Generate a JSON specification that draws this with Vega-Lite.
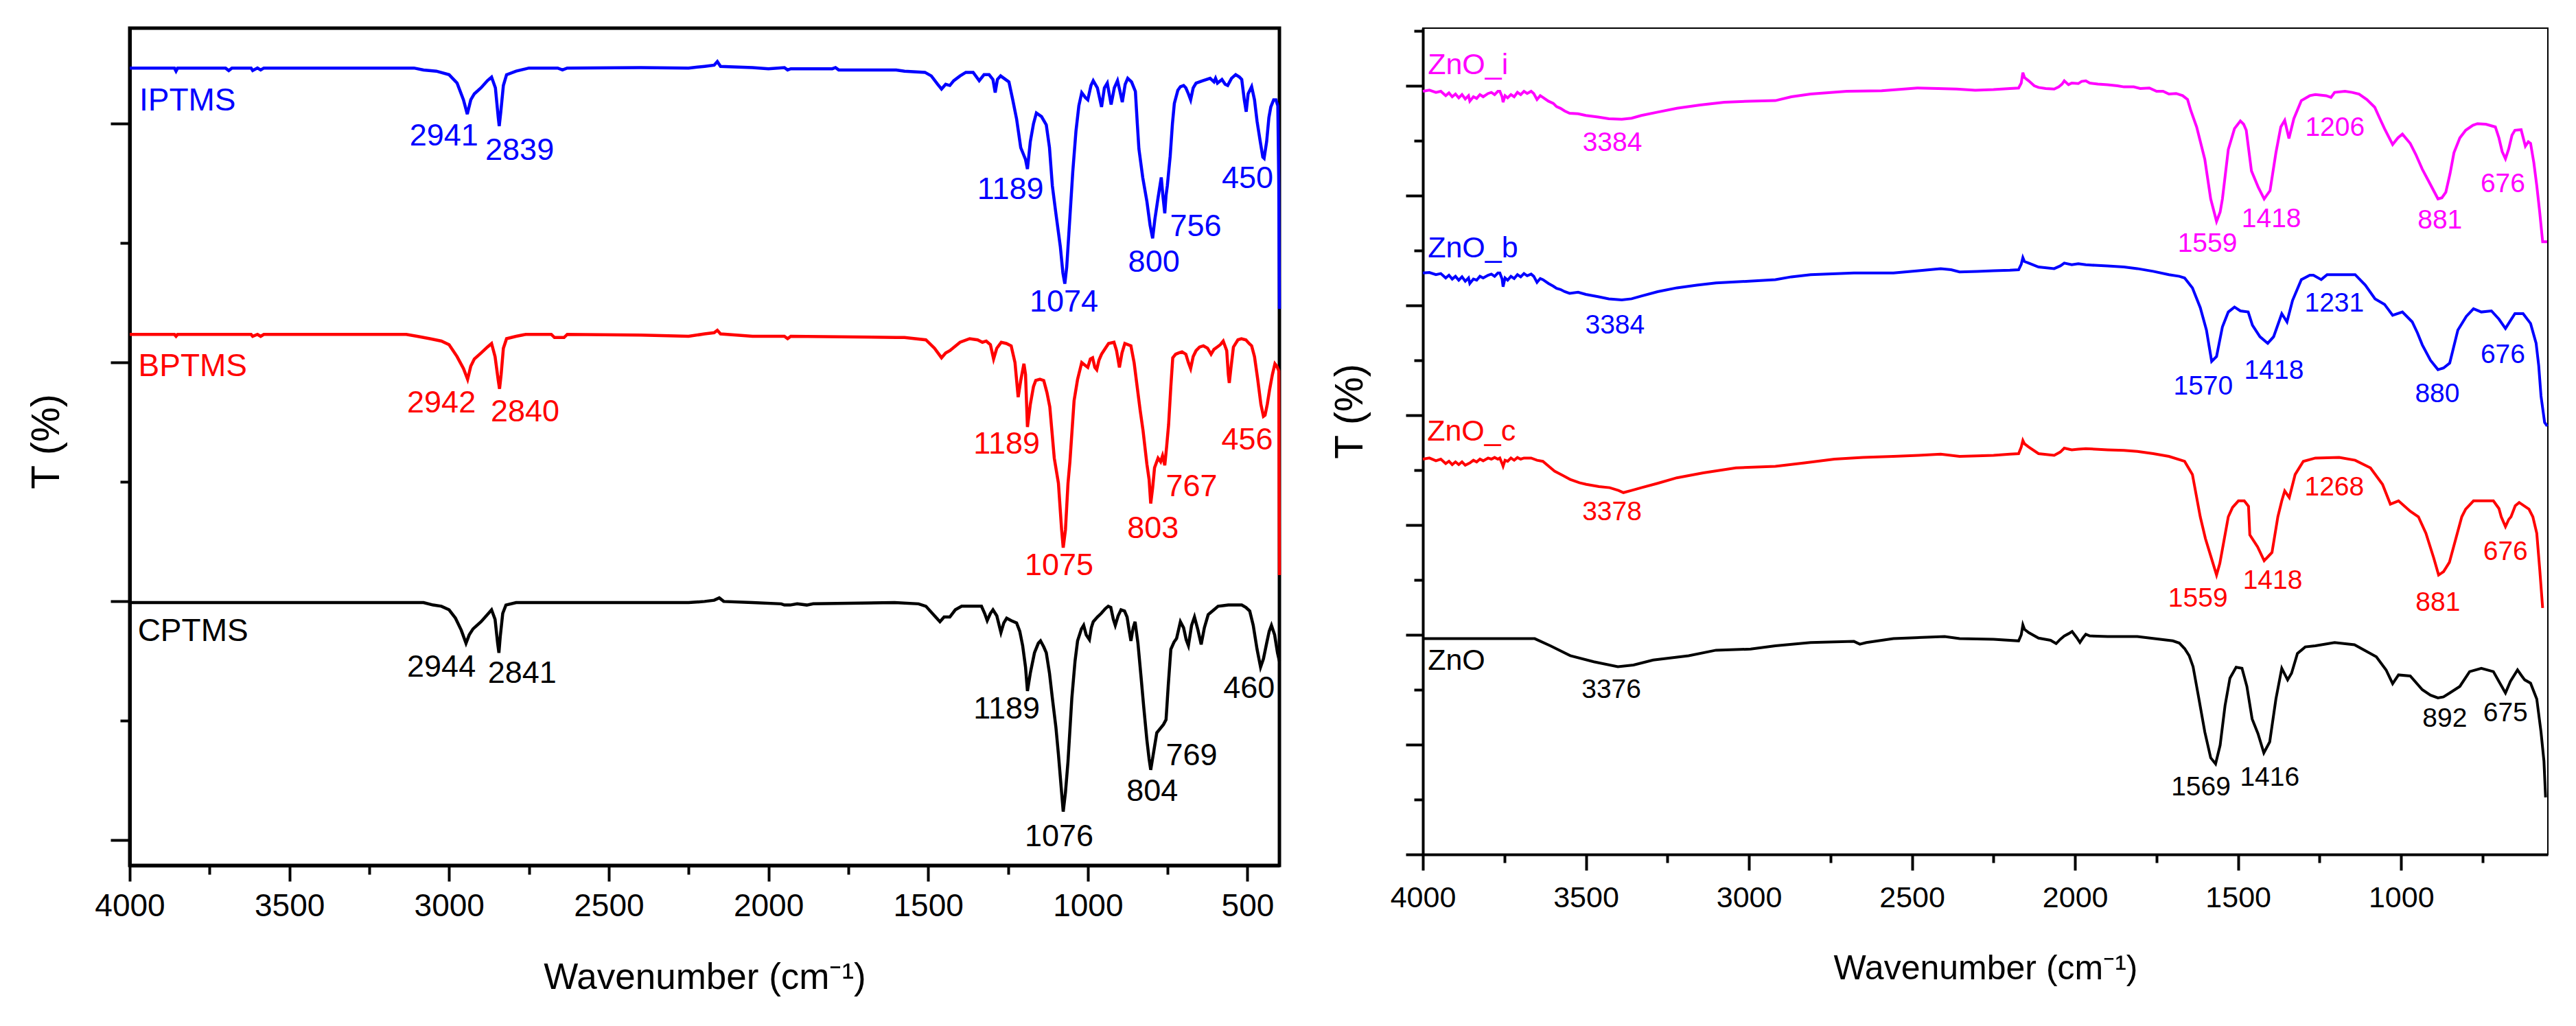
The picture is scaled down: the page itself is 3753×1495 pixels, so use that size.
{
"$schema":"https://vega.github.io/schema/vega-lite/v6.json",
"background":"white",
"padding":{"left":36,"top":38,"right":40,"bottom":10},
"spacing":61,
"resolve":{"scale":{"color":"independent","x":"independent","y":"independent"}},
"config":{"font":"Liberation Sans","view":{"stroke":null},"axis":{"grid":false,"labelColor":"black","titleColor":"black","tickColor":"black","domainColor":"black","titleFontWeight":"normal","labelFlush":false,"labelOverlap":false}},
"datasets":{
"L":[
{"s":"IPTMS","w":4000,"t":6.466},{"s":"IPTMS","w":3860,"t":6.466},{"s":"IPTMS","w":3855,"t":6.44},{"s":"IPTMS","w":3850,"t":6.466},{"s":"IPTMS","w":3700,"t":6.466},{"s":"IPTMS","w":3690,"t":6.445},{"s":"IPTMS","w":3680,"t":6.466},{"s":"IPTMS","w":3620,"t":6.466},{"s":"IPTMS","w":3615,"t":6.445},{"s":"IPTMS","w":3600,"t":6.466},{"s":"IPTMS","w":3590,"t":6.45},{"s":"IPTMS","w":3580,"t":6.466},{"s":"IPTMS","w":3110,"t":6.466},{"s":"IPTMS","w":3080,"t":6.45},{"s":"IPTMS","w":3040,"t":6.44},{"s":"IPTMS","w":3000,"t":6.41},{"s":"IPTMS","w":2975,"t":6.34},{"s":"IPTMS","w":2955,"t":6.2},{"s":"IPTMS","w":2943,"t":6.08},{"s":"IPTMS","w":2932,"t":6.2},{"s":"IPTMS","w":2921,"t":6.25},{"s":"IPTMS","w":2900,"t":6.3},{"s":"IPTMS","w":2880,"t":6.36},{"s":"IPTMS","w":2867,"t":6.39},{"s":"IPTMS","w":2855,"t":6.3},{"s":"IPTMS","w":2846,"t":6.05},{"s":"IPTMS","w":2843,"t":5.98},{"s":"IPTMS","w":2838,"t":6.1},{"s":"IPTMS","w":2830,"t":6.32},{"s":"IPTMS","w":2820,"t":6.41},{"s":"IPTMS","w":2790,"t":6.44},{"s":"IPTMS","w":2750,"t":6.466},{"s":"IPTMS","w":2660,"t":6.466},{"s":"IPTMS","w":2645,"t":6.45},{"s":"IPTMS","w":2630,"t":6.466},{"s":"IPTMS","w":2400,"t":6.47},{"s":"IPTMS","w":2250,"t":6.466},{"s":"IPTMS","w":2200,"t":6.48},{"s":"IPTMS","w":2170,"t":6.49},{"s":"IPTMS","w":2160,"t":6.52},{"s":"IPTMS","w":2150,"t":6.48},{"s":"IPTMS","w":2050,"t":6.47},{"s":"IPTMS","w":2000,"t":6.46},{"s":"IPTMS","w":1950,"t":6.47},{"s":"IPTMS","w":1940,"t":6.45},{"s":"IPTMS","w":1930,"t":6.46},{"s":"IPTMS","w":1800,"t":6.46},{"s":"IPTMS","w":1790,"t":6.47},{"s":"IPTMS","w":1780,"t":6.45},{"s":"IPTMS","w":1600,"t":6.45},{"s":"IPTMS","w":1574,"t":6.44},{"s":"IPTMS","w":1510,"t":6.43},{"s":"IPTMS","w":1490,"t":6.4},{"s":"IPTMS","w":1470,"t":6.33},{"s":"IPTMS","w":1458,"t":6.29},{"s":"IPTMS","w":1445,"t":6.33},{"s":"IPTMS","w":1432,"t":6.32},{"s":"IPTMS","w":1420,"t":6.36},{"s":"IPTMS","w":1400,"t":6.4},{"s":"IPTMS","w":1382,"t":6.43},{"s":"IPTMS","w":1359,"t":6.43},{"s":"IPTMS","w":1340,"t":6.36},{"s":"IPTMS","w":1325,"t":6.41},{"s":"IPTMS","w":1309,"t":6.41},{"s":"IPTMS","w":1297,"t":6.37},{"s":"IPTMS","w":1290,"t":6.26},{"s":"IPTMS","w":1283,"t":6.37},{"s":"IPTMS","w":1273,"t":6.4},{"s":"IPTMS","w":1247,"t":6.35},{"s":"IPTMS","w":1235,"t":6.2},{"s":"IPTMS","w":1223,"t":6.04},{"s":"IPTMS","w":1210,"t":5.8},{"s":"IPTMS","w":1204,"t":5.76},{"s":"IPTMS","w":1195,"t":5.7},{"s":"IPTMS","w":1189,"t":5.62},{"s":"IPTMS","w":1180,"t":5.85},{"s":"IPTMS","w":1170,"t":6.0},{"s":"IPTMS","w":1161,"t":6.09},{"s":"IPTMS","w":1145,"t":6.06},{"s":"IPTMS","w":1130,"t":5.99},{"s":"IPTMS","w":1120,"t":5.8},{"s":"IPTMS","w":1111,"t":5.48},{"s":"IPTMS","w":1100,"t":5.25},{"s":"IPTMS","w":1086,"t":4.97},{"s":"IPTMS","w":1078,"t":4.75},{"s":"IPTMS","w":1072,"t":4.66},{"s":"IPTMS","w":1066,"t":4.8},{"s":"IPTMS","w":1056,"t":5.22},{"s":"IPTMS","w":1047,"t":5.6},{"s":"IPTMS","w":1037,"t":5.94},{"s":"IPTMS","w":1028,"t":6.15},{"s":"IPTMS","w":1019,"t":6.26},{"s":"IPTMS","w":1008,"t":6.22},{"s":"IPTMS","w":1000,"t":6.2},{"s":"IPTMS","w":990,"t":6.32},{"s":"IPTMS","w":983,"t":6.36},{"s":"IPTMS","w":970,"t":6.3},{"s":"IPTMS","w":957,"t":6.14},{"s":"IPTMS","w":948,"t":6.3},{"s":"IPTMS","w":939,"t":6.34},{"s":"IPTMS","w":933,"t":6.25},{"s":"IPTMS","w":927,"t":6.16},{"s":"IPTMS","w":917,"t":6.3},{"s":"IPTMS","w":907,"t":6.36},{"s":"IPTMS","w":900,"t":6.28},{"s":"IPTMS","w":892,"t":6.18},{"s":"IPTMS","w":883,"t":6.33},{"s":"IPTMS","w":875,"t":6.38},{"s":"IPTMS","w":863,"t":6.35},{"s":"IPTMS","w":851,"t":6.27},{"s":"IPTMS","w":845,"t":6.0},{"s":"IPTMS","w":840,"t":5.79},{"s":"IPTMS","w":828,"t":5.55},{"s":"IPTMS","w":815,"t":5.35},{"s":"IPTMS","w":805,"t":5.15},{"s":"IPTMS","w":797,"t":5.04},{"s":"IPTMS","w":790,"t":5.2},{"s":"IPTMS","w":780,"t":5.38},{"s":"IPTMS","w":770,"t":5.55},{"s":"IPTMS","w":765,"t":5.4},{"s":"IPTMS","w":759,"t":5.25},{"s":"IPTMS","w":755,"t":5.4},{"s":"IPTMS","w":751,"t":5.48},{"s":"IPTMS","w":742,"t":5.73},{"s":"IPTMS","w":735,"t":6.0},{"s":"IPTMS","w":729,"t":6.17},{"s":"IPTMS","w":718,"t":6.28},{"s":"IPTMS","w":710,"t":6.31},{"s":"IPTMS","w":700,"t":6.32},{"s":"IPTMS","w":693,"t":6.3},{"s":"IPTMS","w":685,"t":6.25},{"s":"IPTMS","w":678,"t":6.2},{"s":"IPTMS","w":670,"t":6.3},{"s":"IPTMS","w":661,"t":6.34},{"s":"IPTMS","w":640,"t":6.36},{"s":"IPTMS","w":617,"t":6.38},{"s":"IPTMS","w":605,"t":6.35},{"s":"IPTMS","w":600,"t":6.38},{"s":"IPTMS","w":594,"t":6.34},{"s":"IPTMS","w":580,"t":6.37},{"s":"IPTMS","w":570,"t":6.33},{"s":"IPTMS","w":562,"t":6.32},{"s":"IPTMS","w":550,"t":6.38},{"s":"IPTMS","w":537,"t":6.41},{"s":"IPTMS","w":525,"t":6.39},{"s":"IPTMS","w":518,"t":6.37},{"s":"IPTMS","w":510,"t":6.2},{"s":"IPTMS","w":504,"t":6.1},{"s":"IPTMS","w":498,"t":6.25},{"s":"IPTMS","w":487,"t":6.31},{"s":"IPTMS","w":478,"t":6.2},{"s":"IPTMS","w":470,"t":6.02},{"s":"IPTMS","w":460,"t":5.85},{"s":"IPTMS","w":452,"t":5.72},{"s":"IPTMS","w":448,"t":5.71},{"s":"IPTMS","w":440,"t":5.85},{"s":"IPTMS","w":433,"t":6.05},{"s":"IPTMS","w":427,"t":6.14},{"s":"IPTMS","w":418,"t":6.2},{"s":"IPTMS","w":411,"t":6.2},{"s":"IPTMS","w":405,"t":6.15},{"s":"IPTMS","w":402,"t":5.5},{"s":"IPTMS","w":400,"t":4.45},
{"s":"BPTMS","w":4000,"t":4.236},{"s":"BPTMS","w":3860,"t":4.236},{"s":"BPTMS","w":3855,"t":4.22},{"s":"BPTMS","w":3850,"t":4.236},{"s":"BPTMS","w":3620,"t":4.236},{"s":"BPTMS","w":3615,"t":4.22},{"s":"BPTMS","w":3600,"t":4.236},{"s":"BPTMS","w":3590,"t":4.22},{"s":"BPTMS","w":3580,"t":4.236},{"s":"BPTMS","w":3134,"t":4.236},{"s":"BPTMS","w":3100,"t":4.22},{"s":"BPTMS","w":3060,"t":4.2},{"s":"BPTMS","w":3024,"t":4.18},{"s":"BPTMS","w":3000,"t":4.15},{"s":"BPTMS","w":2975,"t":4.05},{"s":"BPTMS","w":2955,"t":3.95},{"s":"BPTMS","w":2942,"t":3.86},{"s":"BPTMS","w":2932,"t":3.97},{"s":"BPTMS","w":2921,"t":4.03},{"s":"BPTMS","w":2900,"t":4.08},{"s":"BPTMS","w":2880,"t":4.13},{"s":"BPTMS","w":2867,"t":4.16},{"s":"BPTMS","w":2856,"t":4.05},{"s":"BPTMS","w":2846,"t":3.85},{"s":"BPTMS","w":2842,"t":3.78},{"s":"BPTMS","w":2837,"t":3.9},{"s":"BPTMS","w":2830,"t":4.12},{"s":"BPTMS","w":2820,"t":4.2},{"s":"BPTMS","w":2790,"t":4.22},{"s":"BPTMS","w":2760,"t":4.236},{"s":"BPTMS","w":2680,"t":4.236},{"s":"BPTMS","w":2670,"t":4.21},{"s":"BPTMS","w":2640,"t":4.21},{"s":"BPTMS","w":2630,"t":4.236},{"s":"BPTMS","w":2400,"t":4.23},{"s":"BPTMS","w":2250,"t":4.22},{"s":"BPTMS","w":2200,"t":4.24},{"s":"BPTMS","w":2170,"t":4.25},{"s":"BPTMS","w":2160,"t":4.27},{"s":"BPTMS","w":2150,"t":4.24},{"s":"BPTMS","w":2100,"t":4.23},{"s":"BPTMS","w":2050,"t":4.22},{"s":"BPTMS","w":1950,"t":4.22},{"s":"BPTMS","w":1940,"t":4.2},{"s":"BPTMS","w":1930,"t":4.22},{"s":"BPTMS","w":1600,"t":4.21},{"s":"BPTMS","w":1574,"t":4.21},{"s":"BPTMS","w":1507,"t":4.19},{"s":"BPTMS","w":1480,"t":4.12},{"s":"BPTMS","w":1458,"t":4.04},{"s":"BPTMS","w":1445,"t":4.08},{"s":"BPTMS","w":1432,"t":4.1},{"s":"BPTMS","w":1400,"t":4.17},{"s":"BPTMS","w":1370,"t":4.2},{"s":"BPTMS","w":1345,"t":4.19},{"s":"BPTMS","w":1330,"t":4.17},{"s":"BPTMS","w":1318,"t":4.18},{"s":"BPTMS","w":1305,"t":4.15},{"s":"BPTMS","w":1295,"t":4.03},{"s":"BPTMS","w":1285,"t":4.12},{"s":"BPTMS","w":1271,"t":4.17},{"s":"BPTMS","w":1255,"t":4.16},{"s":"BPTMS","w":1240,"t":4.14},{"s":"BPTMS","w":1228,"t":4.0},{"s":"BPTMS","w":1218,"t":3.71},{"s":"BPTMS","w":1210,"t":3.85},{"s":"BPTMS","w":1200,"t":3.99},{"s":"BPTMS","w":1195,"t":3.9},{"s":"BPTMS","w":1189,"t":3.46},{"s":"BPTMS","w":1180,"t":3.65},{"s":"BPTMS","w":1170,"t":3.8},{"s":"BPTMS","w":1163,"t":3.85},{"s":"BPTMS","w":1150,"t":3.86},{"s":"BPTMS","w":1138,"t":3.85},{"s":"BPTMS","w":1128,"t":3.75},{"s":"BPTMS","w":1119,"t":3.63},{"s":"BPTMS","w":1105,"t":3.2},{"s":"BPTMS","w":1092,"t":2.99},{"s":"BPTMS","w":1082,"t":2.6},{"s":"BPTMS","w":1077,"t":2.45},{"s":"BPTMS","w":1070,"t":2.6},{"s":"BPTMS","w":1062,"t":2.99},{"s":"BPTMS","w":1056,"t":3.17},{"s":"BPTMS","w":1043,"t":3.68},{"s":"BPTMS","w":1032,"t":3.86},{"s":"BPTMS","w":1019,"t":4.0},{"s":"BPTMS","w":1010,"t":3.98},{"s":"BPTMS","w":1000,"t":3.96},{"s":"BPTMS","w":992,"t":4.03},{"s":"BPTMS","w":985,"t":4.04},{"s":"BPTMS","w":978,"t":3.96},{"s":"BPTMS","w":972,"t":3.94},{"s":"BPTMS","w":965,"t":4.02},{"s":"BPTMS","w":957,"t":4.07},{"s":"BPTMS","w":945,"t":4.12},{"s":"BPTMS","w":935,"t":4.16},{"s":"BPTMS","w":918,"t":4.17},{"s":"BPTMS","w":910,"t":4.1},{"s":"BPTMS","w":901,"t":3.96},{"s":"BPTMS","w":893,"t":4.08},{"s":"BPTMS","w":884,"t":4.16},{"s":"BPTMS","w":865,"t":4.14},{"s":"BPTMS","w":855,"t":4.0},{"s":"BPTMS","w":846,"t":3.81},{"s":"BPTMS","w":836,"t":3.6},{"s":"BPTMS","w":827,"t":3.43},{"s":"BPTMS","w":815,"t":3.15},{"s":"BPTMS","w":808,"t":3.02},{"s":"BPTMS","w":803,"t":2.82},{"s":"BPTMS","w":797,"t":2.95},{"s":"BPTMS","w":791,"t":3.12},{"s":"BPTMS","w":780,"t":3.2},{"s":"BPTMS","w":772,"t":3.17},{"s":"BPTMS","w":766,"t":3.22},{"s":"BPTMS","w":759,"t":3.14},{"s":"BPTMS","w":753,"t":3.3},{"s":"BPTMS","w":747,"t":3.48},{"s":"BPTMS","w":740,"t":3.8},{"s":"BPTMS","w":734,"t":4.04},{"s":"BPTMS","w":725,"t":4.07},{"s":"BPTMS","w":716,"t":4.08},{"s":"BPTMS","w":705,"t":4.09},{"s":"BPTMS","w":693,"t":4.07},{"s":"BPTMS","w":685,"t":4.0},{"s":"BPTMS","w":678,"t":3.95},{"s":"BPTMS","w":670,"t":4.05},{"s":"BPTMS","w":661,"t":4.1},{"s":"BPTMS","w":650,"t":4.13},{"s":"BPTMS","w":638,"t":4.14},{"s":"BPTMS","w":625,"t":4.12},{"s":"BPTMS","w":614,"t":4.07},{"s":"BPTMS","w":605,"t":4.11},{"s":"BPTMS","w":595,"t":4.13},{"s":"BPTMS","w":585,"t":4.15},{"s":"BPTMS","w":576,"t":4.18},{"s":"BPTMS","w":565,"t":4.1},{"s":"BPTMS","w":560,"t":3.9},{"s":"BPTMS","w":557,"t":3.83},{"s":"BPTMS","w":552,"t":3.95},{"s":"BPTMS","w":544,"t":4.13},{"s":"BPTMS","w":530,"t":4.19},{"s":"BPTMS","w":519,"t":4.2},{"s":"BPTMS","w":505,"t":4.19},{"s":"BPTMS","w":495,"t":4.16},{"s":"BPTMS","w":487,"t":4.14},{"s":"BPTMS","w":478,"t":4.05},{"s":"BPTMS","w":468,"t":3.86},{"s":"BPTMS","w":458,"t":3.65},{"s":"BPTMS","w":450,"t":3.55},{"s":"BPTMS","w":445,"t":3.56},{"s":"BPTMS","w":438,"t":3.65},{"s":"BPTMS","w":431,"t":3.77},{"s":"BPTMS","w":422,"t":3.9},{"s":"BPTMS","w":414,"t":3.99},{"s":"BPTMS","w":408,"t":3.97},{"s":"BPTMS","w":402,"t":3.93},{"s":"BPTMS","w":400,"t":2.22},
{"s":"CPTMS","w":4000,"t":1.99},{"s":"CPTMS","w":3100,"t":1.99},{"s":"CPTMS","w":3080,"t":1.99},{"s":"CPTMS","w":3050,"t":1.97},{"s":"CPTMS","w":3024,"t":1.96},{"s":"CPTMS","w":3000,"t":1.93},{"s":"CPTMS","w":2980,"t":1.86},{"s":"CPTMS","w":2962,"t":1.76},{"s":"CPTMS","w":2947,"t":1.65},{"s":"CPTMS","w":2937,"t":1.72},{"s":"CPTMS","w":2925,"t":1.77},{"s":"CPTMS","w":2900,"t":1.83},{"s":"CPTMS","w":2880,"t":1.89},{"s":"CPTMS","w":2867,"t":1.93},{"s":"CPTMS","w":2856,"t":1.85},{"s":"CPTMS","w":2848,"t":1.65},{"s":"CPTMS","w":2844,"t":1.57},{"s":"CPTMS","w":2840,"t":1.7},{"s":"CPTMS","w":2832,"t":1.9},{"s":"CPTMS","w":2822,"t":1.97},{"s":"CPTMS","w":2790,"t":1.99},{"s":"CPTMS","w":2250,"t":1.99},{"s":"CPTMS","w":2200,"t":2.0},{"s":"CPTMS","w":2170,"t":2.01},{"s":"CPTMS","w":2154,"t":2.03},{"s":"CPTMS","w":2140,"t":2.0},{"s":"CPTMS","w":2050,"t":1.99},{"s":"CPTMS","w":1960,"t":1.98},{"s":"CPTMS","w":1950,"t":1.97},{"s":"CPTMS","w":1932,"t":1.97},{"s":"CPTMS","w":1910,"t":1.98},{"s":"CPTMS","w":1880,"t":1.97},{"s":"CPTMS","w":1860,"t":1.98},{"s":"CPTMS","w":1605,"t":1.99},{"s":"CPTMS","w":1530,"t":1.98},{"s":"CPTMS","w":1507,"t":1.96},{"s":"CPTMS","w":1480,"t":1.88},{"s":"CPTMS","w":1463,"t":1.83},{"s":"CPTMS","w":1450,"t":1.87},{"s":"CPTMS","w":1432,"t":1.87},{"s":"CPTMS","w":1415,"t":1.93},{"s":"CPTMS","w":1395,"t":1.96},{"s":"CPTMS","w":1333,"t":1.96},{"s":"CPTMS","w":1323,"t":1.9},{"s":"CPTMS","w":1315,"t":1.84},{"s":"CPTMS","w":1305,"t":1.9},{"s":"CPTMS","w":1297,"t":1.93},{"s":"CPTMS","w":1285,"t":1.88},{"s":"CPTMS","w":1272,"t":1.74},{"s":"CPTMS","w":1263,"t":1.82},{"s":"CPTMS","w":1254,"t":1.86},{"s":"CPTMS","w":1240,"t":1.84},{"s":"CPTMS","w":1223,"t":1.82},{"s":"CPTMS","w":1213,"t":1.75},{"s":"CPTMS","w":1204,"t":1.63},{"s":"CPTMS","w":1195,"t":1.45},{"s":"CPTMS","w":1189,"t":1.25},{"s":"CPTMS","w":1180,"t":1.4},{"s":"CPTMS","w":1167,"t":1.57},{"s":"CPTMS","w":1155,"t":1.65},{"s":"CPTMS","w":1148,"t":1.67},{"s":"CPTMS","w":1138,"t":1.62},{"s":"CPTMS","w":1130,"t":1.57},{"s":"CPTMS","w":1120,"t":1.4},{"s":"CPTMS","w":1111,"t":1.19},{"s":"CPTMS","w":1100,"t":0.95},{"s":"CPTMS","w":1092,"t":0.72},{"s":"CPTMS","w":1082,"t":0.4},{"s":"CPTMS","w":1077,"t":0.24},{"s":"CPTMS","w":1070,"t":0.4},{"s":"CPTMS","w":1062,"t":0.66},{"s":"CPTMS","w":1050,"t":1.19},{"s":"CPTMS","w":1040,"t":1.5},{"s":"CPTMS","w":1032,"t":1.67},{"s":"CPTMS","w":1020,"t":1.77},{"s":"CPTMS","w":1013,"t":1.8},{"s":"CPTMS","w":1005,"t":1.72},{"s":"CPTMS","w":995,"t":1.68},{"s":"CPTMS","w":989,"t":1.78},{"s":"CPTMS","w":983,"t":1.83},{"s":"CPTMS","w":970,"t":1.87},{"s":"CPTMS","w":958,"t":1.9},{"s":"CPTMS","w":945,"t":1.94},{"s":"CPTMS","w":936,"t":1.96},{"s":"CPTMS","w":928,"t":1.95},{"s":"CPTMS","w":920,"t":1.85},{"s":"CPTMS","w":914,"t":1.8},{"s":"CPTMS","w":905,"t":1.88},{"s":"CPTMS","w":896,"t":1.93},{"s":"CPTMS","w":885,"t":1.92},{"s":"CPTMS","w":877,"t":1.87},{"s":"CPTMS","w":870,"t":1.75},{"s":"CPTMS","w":865,"t":1.67},{"s":"CPTMS","w":858,"t":1.78},{"s":"CPTMS","w":852,"t":1.83},{"s":"CPTMS","w":843,"t":1.65},{"s":"CPTMS","w":833,"t":1.36},{"s":"CPTMS","w":825,"t":1.12},{"s":"CPTMS","w":815,"t":0.84},{"s":"CPTMS","w":808,"t":0.68},{"s":"CPTMS","w":803,"t":0.59},{"s":"CPTMS","w":795,"t":0.72},{"s":"CPTMS","w":784,"t":0.9},{"s":"CPTMS","w":772,"t":0.94},{"s":"CPTMS","w":763,"t":0.97},{"s":"CPTMS","w":755,"t":1.01},{"s":"CPTMS","w":748,"t":1.3},{"s":"CPTMS","w":740,"t":1.6},{"s":"CPTMS","w":730,"t":1.66},{"s":"CPTMS","w":722,"t":1.69},{"s":"CPTMS","w":710,"t":1.83},{"s":"CPTMS","w":700,"t":1.78},{"s":"CPTMS","w":692,"t":1.68},{"s":"CPTMS","w":685,"t":1.63},{"s":"CPTMS","w":675,"t":1.8},{"s":"CPTMS","w":666,"t":1.87},{"s":"CPTMS","w":655,"t":1.76},{"s":"CPTMS","w":645,"t":1.64},{"s":"CPTMS","w":635,"t":1.78},{"s":"CPTMS","w":623,"t":1.89},{"s":"CPTMS","w":605,"t":1.93},{"s":"CPTMS","w":592,"t":1.96},{"s":"CPTMS","w":560,"t":1.97},{"s":"CPTMS","w":518,"t":1.97},{"s":"CPTMS","w":505,"t":1.95},{"s":"CPTMS","w":493,"t":1.92},{"s":"CPTMS","w":482,"t":1.8},{"s":"CPTMS","w":470,"t":1.6},{"s":"CPTMS","w":459,"t":1.45},{"s":"CPTMS","w":450,"t":1.52},{"s":"CPTMS","w":440,"t":1.65},{"s":"CPTMS","w":432,"t":1.75},{"s":"CPTMS","w":425,"t":1.8},{"s":"CPTMS","w":415,"t":1.72},{"s":"CPTMS","w":406,"t":1.57},{"s":"CPTMS","w":400,"t":1.5}
],
"LN":[
{"s":"IPTMS","w":3970,"t":6.19,"txt":"IPTMS"},{"s":"BPTMS","w":3973,"t":3.97,"txt":"BPTMS"},{"s":"CPTMS","w":3975,"t":1.75,"txt":"CPTMS"}
],
"LP":[
{"s":"IPTMS","w":3016,"t":5.9,"txt":"2941"},{"s":"IPTMS","w":2779,"t":5.78,"txt":"2839"},{"s":"IPTMS","w":1242,"t":5.45,"txt":"1189"},{"s":"IPTMS","w":1075,"t":4.51,"txt":"1074"},{"s":"IPTMS","w":793,"t":4.84,"txt":"800"},{"s":"IPTMS","w":662,"t":5.14,"txt":"756"},{"s":"IPTMS","w":500,"t":5.54,"txt":"450"},
{"s":"BPTMS","w":3024,"t":3.66,"txt":"2942"},{"s":"BPTMS","w":2762,"t":3.59,"txt":"2840"},{"s":"BPTMS","w":1254,"t":3.32,"txt":"1189"},{"s":"BPTMS","w":1090,"t":2.3,"txt":"1075"},{"s":"BPTMS","w":796,"t":2.61,"txt":"803"},{"s":"BPTMS","w":675,"t":2.96,"txt":"767"},{"s":"BPTMS","w":501,"t":3.35,"txt":"456"},
{"s":"CPTMS","w":3024,"t":1.45,"txt":"2944"},{"s":"CPTMS","w":2771,"t":1.4,"txt":"2841"},{"s":"CPTMS","w":1254,"t":1.1,"txt":"1189"},{"s":"CPTMS","w":1090,"t":0.03,"txt":"1076"},{"s":"CPTMS","w":798,"t":0.41,"txt":"804"},{"s":"CPTMS","w":675,"t":0.71,"txt":"769"},{"s":"CPTMS","w":495,"t":1.27,"txt":"460"}
],
"R":[
{"s":"ZnO_i","w":4000,"t":13.9},{"s":"ZnO_i","w":3980,"t":13.92},{"s":"ZnO_i","w":3960,"t":13.88},{"s":"ZnO_i","w":3945,"t":13.9},{"s":"ZnO_i","w":3930,"t":13.82},{"s":"ZnO_i","w":3920,"t":13.87},{"s":"ZnO_i","w":3910,"t":13.8},{"s":"ZnO_i","w":3900,"t":13.85},{"s":"ZnO_i","w":3890,"t":13.78},{"s":"ZnO_i","w":3880,"t":13.84},{"s":"ZnO_i","w":3870,"t":13.76},{"s":"ZnO_i","w":3860,"t":13.82},{"s":"ZnO_i","w":3856,"t":13.72},{"s":"ZnO_i","w":3845,"t":13.8},{"s":"ZnO_i","w":3835,"t":13.77},{"s":"ZnO_i","w":3825,"t":13.84},{"s":"ZnO_i","w":3815,"t":13.8},{"s":"ZnO_i","w":3800,"t":13.86},{"s":"ZnO_i","w":3790,"t":13.88},{"s":"ZnO_i","w":3780,"t":13.84},{"s":"ZnO_i","w":3770,"t":13.9},{"s":"ZnO_i","w":3764,"t":13.9},{"s":"ZnO_i","w":3757,"t":13.8},{"s":"ZnO_i","w":3754,"t":13.7},{"s":"ZnO_i","w":3748,"t":13.82},{"s":"ZnO_i","w":3740,"t":13.78},{"s":"ZnO_i","w":3730,"t":13.84},{"s":"ZnO_i","w":3720,"t":13.8},{"s":"ZnO_i","w":3710,"t":13.88},{"s":"ZnO_i","w":3700,"t":13.84},{"s":"ZnO_i","w":3690,"t":13.9},{"s":"ZnO_i","w":3680,"t":13.86},{"s":"ZnO_i","w":3668,"t":13.9},{"s":"ZnO_i","w":3660,"t":13.86},{"s":"ZnO_i","w":3650,"t":13.75},{"s":"ZnO_i","w":3640,"t":13.82},{"s":"ZnO_i","w":3632,"t":13.79},{"s":"ZnO_i","w":3615,"t":13.72},{"s":"ZnO_i","w":3600,"t":13.68},{"s":"ZnO_i","w":3590,"t":13.62},{"s":"ZnO_i","w":3578,"t":13.59},{"s":"ZnO_i","w":3565,"t":13.54},{"s":"ZnO_i","w":3550,"t":13.5},{"s":"ZnO_i","w":3524,"t":13.49},{"s":"ZnO_i","w":3500,"t":13.46},{"s":"ZnO_i","w":3463,"t":13.43},{"s":"ZnO_i","w":3430,"t":13.4},{"s":"ZnO_i","w":3390,"t":13.39},{"s":"ZnO_i","w":3360,"t":13.41},{"s":"ZnO_i","w":3330,"t":13.46},{"s":"ZnO_i","w":3280,"t":13.52},{"s":"ZnO_i","w":3221,"t":13.59},{"s":"ZnO_i","w":3150,"t":13.65},{"s":"ZnO_i","w":3076,"t":13.7},{"s":"ZnO_i","w":3000,"t":13.72},{"s":"ZnO_i","w":2919,"t":13.73},{"s":"ZnO_i","w":2870,"t":13.8},{"s":"ZnO_i","w":2811,"t":13.85},{"s":"ZnO_i","w":2700,"t":13.9},{"s":"ZnO_i","w":2593,"t":13.91},{"s":"ZnO_i","w":2484,"t":13.96},{"s":"ZnO_i","w":2420,"t":13.95},{"s":"ZnO_i","w":2363,"t":13.94},{"s":"ZnO_i","w":2306,"t":13.92},{"s":"ZnO_i","w":2250,"t":13.93},{"s":"ZnO_i","w":2200,"t":13.95},{"s":"ZnO_i","w":2173,"t":13.96},{"s":"ZnO_i","w":2165,"t":14.05},{"s":"ZnO_i","w":2160,"t":14.24},{"s":"ZnO_i","w":2155,"t":14.15},{"s":"ZnO_i","w":2142,"t":14.09},{"s":"ZnO_i","w":2125,"t":14.0},{"s":"ZnO_i","w":2112,"t":13.97},{"s":"ZnO_i","w":2090,"t":13.95},{"s":"ZnO_i","w":2064,"t":13.94},{"s":"ZnO_i","w":2050,"t":13.98},{"s":"ZnO_i","w":2040,"t":14.03},{"s":"ZnO_i","w":2033,"t":14.09},{"s":"ZnO_i","w":2020,"t":14.02},{"s":"ZnO_i","w":2010,"t":14.05},{"s":"ZnO_i","w":1990,"t":14.04},{"s":"ZnO_i","w":1980,"t":14.08},{"s":"ZnO_i","w":1967,"t":14.09},{"s":"ZnO_i","w":1955,"t":14.05},{"s":"ZnO_i","w":1930,"t":14.03},{"s":"ZnO_i","w":1900,"t":14.02},{"s":"ZnO_i","w":1870,"t":14.0},{"s":"ZnO_i","w":1850,"t":13.98},{"s":"ZnO_i","w":1820,"t":13.98},{"s":"ZnO_i","w":1800,"t":13.95},{"s":"ZnO_i","w":1772,"t":13.96},{"s":"ZnO_i","w":1750,"t":13.9},{"s":"ZnO_i","w":1730,"t":13.9},{"s":"ZnO_i","w":1712,"t":13.85},{"s":"ZnO_i","w":1690,"t":13.86},{"s":"ZnO_i","w":1670,"t":13.82},{"s":"ZnO_i","w":1655,"t":13.75},{"s":"ZnO_i","w":1645,"t":13.55},{"s":"ZnO_i","w":1627,"t":13.25},{"s":"ZnO_i","w":1602,"t":12.66},{"s":"ZnO_i","w":1584,"t":11.94},{"s":"ZnO_i","w":1566,"t":11.53},{"s":"ZnO_i","w":1555,"t":11.7},{"s":"ZnO_i","w":1548,"t":11.94},{"s":"ZnO_i","w":1530,"t":12.84},{"s":"ZnO_i","w":1511,"t":13.22},{"s":"ZnO_i","w":1493,"t":13.36},{"s":"ZnO_i","w":1483,"t":13.3},{"s":"ZnO_i","w":1475,"t":13.19},{"s":"ZnO_i","w":1459,"t":12.45},{"s":"ZnO_i","w":1438,"t":12.15},{"s":"ZnO_i","w":1420,"t":11.94},{"s":"ZnO_i","w":1402,"t":12.09},{"s":"ZnO_i","w":1384,"t":12.78},{"s":"ZnO_i","w":1369,"t":13.25},{"s":"ZnO_i","w":1357,"t":13.37},{"s":"ZnO_i","w":1344,"t":13.04},{"s":"ZnO_i","w":1329,"t":13.4},{"s":"ZnO_i","w":1306,"t":13.73},{"s":"ZnO_i","w":1280,"t":13.82},{"s":"ZnO_i","w":1263,"t":13.84},{"s":"ZnO_i","w":1230,"t":13.82},{"s":"ZnO_i","w":1215,"t":13.79},{"s":"ZnO_i","w":1204,"t":13.88},{"s":"ZnO_i","w":1172,"t":13.9},{"s":"ZnO_i","w":1150,"t":13.88},{"s":"ZnO_i","w":1129,"t":13.85},{"s":"ZnO_i","w":1105,"t":13.75},{"s":"ZnO_i","w":1081,"t":13.61},{"s":"ZnO_i","w":1065,"t":13.4},{"s":"ZnO_i","w":1051,"t":13.22},{"s":"ZnO_i","w":1026,"t":12.93},{"s":"ZnO_i","w":1010,"t":13.05},{"s":"ZnO_i","w":996,"t":13.12},{"s":"ZnO_i","w":972,"t":12.95},{"s":"ZnO_i","w":955,"t":12.75},{"s":"ZnO_i","w":935,"t":12.48},{"s":"ZnO_i","w":910,"t":12.2},{"s":"ZnO_i","w":887,"t":11.94},{"s":"ZnO_i","w":875,"t":11.96},{"s":"ZnO_i","w":863,"t":12.06},{"s":"ZnO_i","w":850,"t":12.4},{"s":"ZnO_i","w":838,"t":12.78},{"s":"ZnO_i","w":820,"t":13.05},{"s":"ZnO_i","w":802,"t":13.19},{"s":"ZnO_i","w":780,"t":13.28},{"s":"ZnO_i","w":766,"t":13.31},{"s":"ZnO_i","w":740,"t":13.3},{"s":"ZnO_i","w":711,"t":13.25},{"s":"ZnO_i","w":700,"t":13.05},{"s":"ZnO_i","w":690,"t":12.8},{"s":"ZnO_i","w":680,"t":12.67},{"s":"ZnO_i","w":670,"t":12.85},{"s":"ZnO_i","w":660,"t":13.1},{"s":"ZnO_i","w":651,"t":13.19},{"s":"ZnO_i","w":632,"t":13.2},{"s":"ZnO_i","w":619,"t":12.9},{"s":"ZnO_i","w":610,"t":12.98},{"s":"ZnO_i","w":603,"t":12.95},{"s":"ZnO_i","w":593,"t":12.6},{"s":"ZnO_i","w":584,"t":12.18},{"s":"ZnO_i","w":575,"t":11.7},{"s":"ZnO_i","w":566,"t":11.16},{"s":"ZnO_i","w":552,"t":11.16},
{"s":"ZnO_b","w":4000,"t":10.59},{"s":"ZnO_b","w":3980,"t":10.6},{"s":"ZnO_b","w":3960,"t":10.56},{"s":"ZnO_b","w":3945,"t":10.58},{"s":"ZnO_b","w":3930,"t":10.5},{"s":"ZnO_b","w":3920,"t":10.55},{"s":"ZnO_b","w":3910,"t":10.48},{"s":"ZnO_b","w":3900,"t":10.53},{"s":"ZnO_b","w":3890,"t":10.46},{"s":"ZnO_b","w":3880,"t":10.52},{"s":"ZnO_b","w":3870,"t":10.44},{"s":"ZnO_b","w":3860,"t":10.5},{"s":"ZnO_b","w":3856,"t":10.4},{"s":"ZnO_b","w":3845,"t":10.48},{"s":"ZnO_b","w":3835,"t":10.46},{"s":"ZnO_b","w":3825,"t":10.53},{"s":"ZnO_b","w":3815,"t":10.5},{"s":"ZnO_b","w":3800,"t":10.55},{"s":"ZnO_b","w":3790,"t":10.57},{"s":"ZnO_b","w":3780,"t":10.53},{"s":"ZnO_b","w":3770,"t":10.59},{"s":"ZnO_b","w":3764,"t":10.59},{"s":"ZnO_b","w":3757,"t":10.48},{"s":"ZnO_b","w":3754,"t":10.34},{"s":"ZnO_b","w":3748,"t":10.5},{"s":"ZnO_b","w":3740,"t":10.46},{"s":"ZnO_b","w":3730,"t":10.53},{"s":"ZnO_b","w":3720,"t":10.49},{"s":"ZnO_b","w":3710,"t":10.56},{"s":"ZnO_b","w":3700,"t":10.52},{"s":"ZnO_b","w":3690,"t":10.58},{"s":"ZnO_b","w":3680,"t":10.54},{"s":"ZnO_b","w":3668,"t":10.57},{"s":"ZnO_b","w":3660,"t":10.53},{"s":"ZnO_b","w":3650,"t":10.42},{"s":"ZnO_b","w":3640,"t":10.49},{"s":"ZnO_b","w":3632,"t":10.47},{"s":"ZnO_b","w":3615,"t":10.4},{"s":"ZnO_b","w":3600,"t":10.35},{"s":"ZnO_b","w":3590,"t":10.31},{"s":"ZnO_b","w":3578,"t":10.29},{"s":"ZnO_b","w":3565,"t":10.25},{"s":"ZnO_b","w":3550,"t":10.22},{"s":"ZnO_b","w":3524,"t":10.24},{"s":"ZnO_b","w":3500,"t":10.2},{"s":"ZnO_b","w":3463,"t":10.16},{"s":"ZnO_b","w":3430,"t":10.12},{"s":"ZnO_b","w":3390,"t":10.1},{"s":"ZnO_b","w":3360,"t":10.12},{"s":"ZnO_b","w":3330,"t":10.17},{"s":"ZnO_b","w":3280,"t":10.25},{"s":"ZnO_b","w":3221,"t":10.32},{"s":"ZnO_b","w":3160,"t":10.37},{"s":"ZnO_b","w":3101,"t":10.41},{"s":"ZnO_b","w":3000,"t":10.44},{"s":"ZnO_b","w":2919,"t":10.47},{"s":"ZnO_b","w":2870,"t":10.52},{"s":"ZnO_b","w":2811,"t":10.56},{"s":"ZnO_b","w":2678,"t":10.59},{"s":"ZnO_b","w":2557,"t":10.59},{"s":"ZnO_b","w":2480,"t":10.63},{"s":"ZnO_b","w":2412,"t":10.67},{"s":"ZnO_b","w":2380,"t":10.65},{"s":"ZnO_b","w":2354,"t":10.61},{"s":"ZnO_b","w":2300,"t":10.62},{"s":"ZnO_b","w":2250,"t":10.63},{"s":"ZnO_b","w":2200,"t":10.64},{"s":"ZnO_b","w":2173,"t":10.65},{"s":"ZnO_b","w":2165,"t":10.75},{"s":"ZnO_b","w":2160,"t":10.87},{"s":"ZnO_b","w":2155,"t":10.8},{"s":"ZnO_b","w":2142,"t":10.77},{"s":"ZnO_b","w":2112,"t":10.7},{"s":"ZnO_b","w":2064,"t":10.67},{"s":"ZnO_b","w":2045,"t":10.72},{"s":"ZnO_b","w":2033,"t":10.77},{"s":"ZnO_b","w":2010,"t":10.74},{"s":"ZnO_b","w":1990,"t":10.76},{"s":"ZnO_b","w":1967,"t":10.74},{"s":"ZnO_b","w":1940,"t":10.73},{"s":"ZnO_b","w":1900,"t":10.72},{"s":"ZnO_b","w":1850,"t":10.7},{"s":"ZnO_b","w":1809,"t":10.67},{"s":"ZnO_b","w":1760,"t":10.62},{"s":"ZnO_b","w":1712,"t":10.56},{"s":"ZnO_b","w":1680,"t":10.53},{"s":"ZnO_b","w":1664,"t":10.5},{"s":"ZnO_b","w":1640,"t":10.32},{"s":"ZnO_b","w":1616,"t":9.96},{"s":"ZnO_b","w":1597,"t":9.55},{"s":"ZnO_b","w":1581,"t":8.98},{"s":"ZnO_b","w":1566,"t":9.07},{"s":"ZnO_b","w":1548,"t":9.61},{"s":"ZnO_b","w":1530,"t":9.88},{"s":"ZnO_b","w":1511,"t":9.97},{"s":"ZnO_b","w":1493,"t":9.9},{"s":"ZnO_b","w":1469,"t":9.88},{"s":"ZnO_b","w":1456,"t":9.64},{"s":"ZnO_b","w":1433,"t":9.43},{"s":"ZnO_b","w":1409,"t":9.31},{"s":"ZnO_b","w":1391,"t":9.43},{"s":"ZnO_b","w":1366,"t":9.85},{"s":"ZnO_b","w":1350,"t":9.7},{"s":"ZnO_b","w":1333,"t":10.09},{"s":"ZnO_b","w":1306,"t":10.47},{"s":"ZnO_b","w":1280,"t":10.55},{"s":"ZnO_b","w":1269,"t":10.55},{"s":"ZnO_b","w":1245,"t":10.47},{"s":"ZnO_b","w":1227,"t":10.56},{"s":"ZnO_b","w":1180,"t":10.56},{"s":"ZnO_b","w":1141,"t":10.56},{"s":"ZnO_b","w":1110,"t":10.37},{"s":"ZnO_b","w":1080,"t":10.12},{"s":"ZnO_b","w":1051,"t":10.02},{"s":"ZnO_b","w":1026,"t":9.82},{"s":"ZnO_b","w":996,"t":9.88},{"s":"ZnO_b","w":966,"t":9.7},{"s":"ZnO_b","w":950,"t":9.5},{"s":"ZnO_b","w":935,"t":9.28},{"s":"ZnO_b","w":910,"t":9.0},{"s":"ZnO_b","w":887,"t":8.83},{"s":"ZnO_b","w":870,"t":8.86},{"s":"ZnO_b","w":851,"t":8.95},{"s":"ZnO_b","w":826,"t":9.55},{"s":"ZnO_b","w":800,"t":9.8},{"s":"ZnO_b","w":778,"t":9.94},{"s":"ZnO_b","w":754,"t":9.88},{"s":"ZnO_b","w":723,"t":9.9},{"s":"ZnO_b","w":700,"t":9.75},{"s":"ZnO_b","w":680,"t":9.58},{"s":"ZnO_b","w":665,"t":9.72},{"s":"ZnO_b","w":651,"t":9.85},{"s":"ZnO_b","w":626,"t":9.85},{"s":"ZnO_b","w":603,"t":9.67},{"s":"ZnO_b","w":586,"t":9.31},{"s":"ZnO_b","w":578,"t":8.9},{"s":"ZnO_b","w":571,"t":8.35},{"s":"ZnO_b","w":560,"t":7.87},{"s":"ZnO_b","w":552,"t":7.8},
{"s":"ZnO_c","w":4000,"t":7.2},{"s":"ZnO_c","w":3980,"t":7.22},{"s":"ZnO_c","w":3960,"t":7.17},{"s":"ZnO_c","w":3945,"t":7.2},{"s":"ZnO_c","w":3930,"t":7.12},{"s":"ZnO_c","w":3920,"t":7.16},{"s":"ZnO_c","w":3910,"t":7.1},{"s":"ZnO_c","w":3900,"t":7.15},{"s":"ZnO_c","w":3890,"t":7.1},{"s":"ZnO_c","w":3880,"t":7.15},{"s":"ZnO_c","w":3870,"t":7.09},{"s":"ZnO_c","w":3856,"t":7.13},{"s":"ZnO_c","w":3845,"t":7.18},{"s":"ZnO_c","w":3835,"t":7.15},{"s":"ZnO_c","w":3825,"t":7.2},{"s":"ZnO_c","w":3815,"t":7.17},{"s":"ZnO_c","w":3800,"t":7.22},{"s":"ZnO_c","w":3790,"t":7.2},{"s":"ZnO_c","w":3780,"t":7.23},{"s":"ZnO_c","w":3770,"t":7.2},{"s":"ZnO_c","w":3764,"t":7.22},{"s":"ZnO_c","w":3757,"t":7.12},{"s":"ZnO_c","w":3754,"t":7.07},{"s":"ZnO_c","w":3748,"t":7.18},{"s":"ZnO_c","w":3740,"t":7.16},{"s":"ZnO_c","w":3730,"t":7.22},{"s":"ZnO_c","w":3720,"t":7.18},{"s":"ZnO_c","w":3710,"t":7.23},{"s":"ZnO_c","w":3700,"t":7.2},{"s":"ZnO_c","w":3690,"t":7.22},{"s":"ZnO_c","w":3668,"t":7.22},{"s":"ZnO_c","w":3650,"t":7.18},{"s":"ZnO_c","w":3632,"t":7.16},{"s":"ZnO_c","w":3610,"t":7.05},{"s":"ZnO_c","w":3596,"t":6.98},{"s":"ZnO_c","w":3570,"t":6.9},{"s":"ZnO_c","w":3548,"t":6.83},{"s":"ZnO_c","w":3520,"t":6.77},{"s":"ZnO_c","w":3499,"t":6.74},{"s":"ZnO_c","w":3460,"t":6.7},{"s":"ZnO_c","w":3427,"t":6.68},{"s":"ZnO_c","w":3400,"t":6.63},{"s":"ZnO_c","w":3385,"t":6.59},{"s":"ZnO_c","w":3360,"t":6.63},{"s":"ZnO_c","w":3330,"t":6.68},{"s":"ZnO_c","w":3280,"t":6.76},{"s":"ZnO_c","w":3221,"t":6.86},{"s":"ZnO_c","w":3140,"t":6.95},{"s":"ZnO_c","w":3040,"t":7.04},{"s":"ZnO_c","w":2919,"t":7.07},{"s":"ZnO_c","w":2830,"t":7.13},{"s":"ZnO_c","w":2738,"t":7.2},{"s":"ZnO_c","w":2650,"t":7.23},{"s":"ZnO_c","w":2557,"t":7.25},{"s":"ZnO_c","w":2480,"t":7.27},{"s":"ZnO_c","w":2412,"t":7.29},{"s":"ZnO_c","w":2354,"t":7.25},{"s":"ZnO_c","w":2300,"t":7.26},{"s":"ZnO_c","w":2250,"t":7.27},{"s":"ZnO_c","w":2200,"t":7.29},{"s":"ZnO_c","w":2173,"t":7.3},{"s":"ZnO_c","w":2165,"t":7.42},{"s":"ZnO_c","w":2160,"t":7.54},{"s":"ZnO_c","w":2155,"t":7.48},{"s":"ZnO_c","w":2142,"t":7.42},{"s":"ZnO_c","w":2112,"t":7.3},{"s":"ZnO_c","w":2064,"t":7.27},{"s":"ZnO_c","w":2045,"t":7.33},{"s":"ZnO_c","w":2033,"t":7.4},{"s":"ZnO_c","w":2010,"t":7.37},{"s":"ZnO_c","w":1990,"t":7.38},{"s":"ZnO_c","w":1967,"t":7.39},{"s":"ZnO_c","w":1900,"t":7.37},{"s":"ZnO_c","w":1850,"t":7.36},{"s":"ZnO_c","w":1809,"t":7.34},{"s":"ZnO_c","w":1760,"t":7.3},{"s":"ZnO_c","w":1712,"t":7.25},{"s":"ZnO_c","w":1664,"t":7.16},{"s":"ZnO_c","w":1640,"t":6.92},{"s":"ZnO_c","w":1616,"t":6.15},{"s":"ZnO_c","w":1600,"t":5.75},{"s":"ZnO_c","w":1584,"t":5.44},{"s":"ZnO_c","w":1566,"t":5.09},{"s":"ZnO_c","w":1556,"t":5.3},{"s":"ZnO_c","w":1548,"t":5.56},{"s":"ZnO_c","w":1530,"t":6.15},{"s":"ZnO_c","w":1517,"t":6.32},{"s":"ZnO_c","w":1499,"t":6.44},{"s":"ZnO_c","w":1481,"t":6.44},{"s":"ZnO_c","w":1468,"t":6.34},{"s":"ZnO_c","w":1464,"t":5.82},{"s":"ZnO_c","w":1440,"t":5.6},{"s":"ZnO_c","w":1420,"t":5.35},{"s":"ZnO_c","w":1396,"t":5.5},{"s":"ZnO_c","w":1378,"t":6.15},{"s":"ZnO_c","w":1366,"t":6.44},{"s":"ZnO_c","w":1357,"t":6.62},{"s":"ZnO_c","w":1343,"t":6.5},{"s":"ZnO_c","w":1325,"t":6.92},{"s":"ZnO_c","w":1300,"t":7.16},{"s":"ZnO_c","w":1263,"t":7.22},{"s":"ZnO_c","w":1190,"t":7.23},{"s":"ZnO_c","w":1141,"t":7.18},{"s":"ZnO_c","w":1094,"t":7.04},{"s":"ZnO_c","w":1057,"t":6.74},{"s":"ZnO_c","w":1033,"t":6.38},{"s":"ZnO_c","w":1008,"t":6.44},{"s":"ZnO_c","w":972,"t":6.25},{"s":"ZnO_c","w":947,"t":6.15},{"s":"ZnO_c","w":924,"t":5.85},{"s":"ZnO_c","w":900,"t":5.4},{"s":"ZnO_c","w":885,"t":5.09},{"s":"ZnO_c","w":870,"t":5.15},{"s":"ZnO_c","w":852,"t":5.32},{"s":"ZnO_c","w":814,"t":6.15},{"s":"ZnO_c","w":802,"t":6.29},{"s":"ZnO_c","w":778,"t":6.44},{"s":"ZnO_c","w":717,"t":6.44},{"s":"ZnO_c","w":700,"t":6.3},{"s":"ZnO_c","w":693,"t":6.15},{"s":"ZnO_c","w":680,"t":5.97},{"s":"ZnO_c","w":670,"t":6.1},{"s":"ZnO_c","w":663,"t":6.15},{"s":"ZnO_c","w":650,"t":6.35},{"s":"ZnO_c","w":638,"t":6.41},{"s":"ZnO_c","w":608,"t":6.29},{"s":"ZnO_c","w":596,"t":6.15},{"s":"ZnO_c","w":584,"t":5.85},{"s":"ZnO_c","w":575,"t":5.2},{"s":"ZnO_c","w":566,"t":4.49},
{"s":"ZnO","w":4000,"t":3.93},{"s":"ZnO","w":3657,"t":3.93},{"s":"ZnO","w":3609,"t":3.8},{"s":"ZnO","w":3548,"t":3.62},{"s":"ZnO","w":3476,"t":3.51},{"s":"ZnO","w":3402,"t":3.42},{"s":"ZnO","w":3354,"t":3.45},{"s":"ZnO","w":3294,"t":3.54},{"s":"ZnO","w":3185,"t":3.62},{"s":"ZnO","w":3101,"t":3.72},{"s":"ZnO","w":2995,"t":3.74},{"s":"ZnO","w":2919,"t":3.8},{"s":"ZnO","w":2811,"t":3.86},{"s":"ZnO","w":2678,"t":3.88},{"s":"ZnO","w":2660,"t":3.83},{"s":"ZnO","w":2640,"t":3.86},{"s":"ZnO","w":2557,"t":3.93},{"s":"ZnO","w":2400,"t":3.97},{"s":"ZnO","w":2354,"t":3.93},{"s":"ZnO","w":2250,"t":3.92},{"s":"ZnO","w":2173,"t":3.89},{"s":"ZnO","w":2165,"t":4.0},{"s":"ZnO","w":2160,"t":4.18},{"s":"ZnO","w":2155,"t":4.1},{"s":"ZnO","w":2142,"t":4.04},{"s":"ZnO","w":2112,"t":3.94},{"s":"ZnO","w":2075,"t":3.9},{"s":"ZnO","w":2058,"t":3.84},{"s":"ZnO","w":2045,"t":3.92},{"s":"ZnO","w":2033,"t":3.98},{"s":"ZnO","w":2020,"t":4.02},{"s":"ZnO","w":2009,"t":4.06},{"s":"ZnO","w":1995,"t":3.95},{"s":"ZnO","w":1985,"t":3.86},{"s":"ZnO","w":1975,"t":3.95},{"s":"ZnO","w":1967,"t":4.01},{"s":"ZnO","w":1955,"t":3.98},{"s":"ZnO","w":1900,"t":3.97},{"s":"ZnO","w":1809,"t":3.97},{"s":"ZnO","w":1700,"t":3.89},{"s":"ZnO","w":1680,"t":3.85},{"s":"ZnO","w":1664,"t":3.75},{"s":"ZnO","w":1650,"t":3.62},{"s":"ZnO","w":1638,"t":3.42},{"s":"ZnO","w":1620,"t":2.83},{"s":"ZnO","w":1602,"t":2.23},{"s":"ZnO","w":1584,"t":1.76},{"s":"ZnO","w":1569,"t":1.65},{"s":"ZnO","w":1555,"t":1.99},{"s":"ZnO","w":1540,"t":2.71},{"s":"ZnO","w":1525,"t":3.21},{"s":"ZnO","w":1506,"t":3.41},{"s":"ZnO","w":1488,"t":3.39},{"s":"ZnO","w":1473,"t":3.06},{"s":"ZnO","w":1457,"t":2.47},{"s":"ZnO","w":1439,"t":2.2},{"s":"ZnO","w":1421,"t":1.85},{"s":"ZnO","w":1403,"t":2.05},{"s":"ZnO","w":1384,"t":2.83},{"s":"ZnO","w":1366,"t":3.39},{"s":"ZnO","w":1348,"t":3.18},{"s":"ZnO","w":1336,"t":3.3},{"s":"ZnO","w":1318,"t":3.66},{"s":"ZnO","w":1294,"t":3.78},{"s":"ZnO","w":1263,"t":3.8},{"s":"ZnO","w":1204,"t":3.86},{"s":"ZnO","w":1143,"t":3.82},{"s":"ZnO","w":1076,"t":3.6},{"s":"ZnO","w":1046,"t":3.36},{"s":"ZnO","w":1026,"t":3.11},{"s":"ZnO","w":1008,"t":3.27},{"s":"ZnO","w":972,"t":3.25},{"s":"ZnO","w":935,"t":3.0},{"s":"ZnO","w":910,"t":2.9},{"s":"ZnO","w":887,"t":2.85},{"s":"ZnO","w":870,"t":2.87},{"s":"ZnO","w":851,"t":2.94},{"s":"ZnO","w":820,"t":3.06},{"s":"ZnO","w":790,"t":3.33},{"s":"ZnO","w":754,"t":3.39},{"s":"ZnO","w":717,"t":3.33},{"s":"ZnO","w":700,"t":3.15},{"s":"ZnO","w":680,"t":2.94},{"s":"ZnO","w":665,"t":3.15},{"s":"ZnO","w":643,"t":3.36},{"s":"ZnO","w":630,"t":3.25},{"s":"ZnO","w":621,"t":3.18},{"s":"ZnO","w":603,"t":3.12},{"s":"ZnO","w":584,"t":2.83},{"s":"ZnO","w":571,"t":2.23},{"s":"ZnO","w":562,"t":1.7},{"s":"ZnO","w":557,"t":1.04}
],
"RN":[
{"s":"ZnO_i","w":3985,"t":14.37,"txt":"ZnO_i"},{"s":"ZnO_b","w":3985,"t":11.04,"txt":"ZnO_b"},{"s":"ZnO_c","w":3987,"t":7.7,"txt":"ZnO_c"},{"s":"ZnO","w":3985,"t":3.52,"txt":"ZnO"}
],
"RP":[
{"s":"ZnO_i","w":3419,"t":12.96,"txt":"3384"},{"s":"ZnO_i","w":1594,"t":11.13,"txt":"1559"},{"s":"ZnO_i","w":1398,"t":11.58,"txt":"1418"},{"s":"ZnO_i","w":1203,"t":13.24,"txt":"1206"},{"s":"ZnO_i","w":881,"t":11.55,"txt":"881"},{"s":"ZnO_i","w":688,"t":12.21,"txt":"676"},
{"s":"ZnO_b","w":3411,"t":9.64,"txt":"3384"},{"s":"ZnO_b","w":1607,"t":8.53,"txt":"1570"},{"s":"ZnO_b","w":1390,"t":8.81,"txt":"1418"},{"s":"ZnO_b","w":1205,"t":10.04,"txt":"1231"},{"s":"ZnO_b","w":889,"t":8.39,"txt":"880"},{"s":"ZnO_b","w":688,"t":9.1,"txt":"676"},
{"s":"ZnO_c","w":3420,"t":6.24,"txt":"3378"},{"s":"ZnO_c","w":1205,"t":6.69,"txt":"1268"},{"s":"ZnO_c","w":1623,"t":4.66,"txt":"1559"},{"s":"ZnO_c","w":1394,"t":4.99,"txt":"1418"},{"s":"ZnO_c","w":887,"t":4.59,"txt":"881"},{"s":"ZnO_c","w":680,"t":5.51,"txt":"676"},
{"s":"ZnO","w":3422,"t":3.0,"txt":"3376"},{"s":"ZnO","w":1614,"t":1.22,"txt":"1569"},{"s":"ZnO","w":1403,"t":1.4,"txt":"1416"},{"s":"ZnO","w":866,"t":2.48,"txt":"892"},{"s":"ZnO","w":680,"t":2.58,"txt":"675"}
]
},
"hconcat":[
{
"width":1675,"height":1220,
"view":{"stroke":"black","strokeWidth":5},
"encoding":{
"x":{"field":"w","type":"quantitative","title":"Wavenumber (cm⁻¹)","scale":{"domain":[400,4000],"reverse":true,"nice":false,"zero":false},"axis":{"values":[4000,3750,3500,3250,3000,2750,2500,2250,2000,1750,1500,1250,1000,750,500],"format":"d","labelExpr":"datum.value % 500 === 0 ? datum.label : ''","tickSize":{"condition":{"test":"datum.value % 500 === 0","value":23},"value":13},"tickWidth":4,"domainWidth":5,"labelFontSize":46,"labelPadding":14,"titleFontSize":53,"titlePadding":55}},
"y":{"field":"t","type":"quantitative","title":"T (%)","scale":{"domain":[-0.21,6.8],"nice":false,"zero":false},"axis":{"values":[0,1,2,3,4,5,6],"labels":false,"tickSize":{"condition":{"test":"datum.value % 2 === 0","value":28},"value":14},"tickWidth":4,"domainWidth":5,"titleFontSize":57,"titlePadding":62,"titleY":602}},
"color":{"field":"s","type":"nominal","scale":{"domain":["IPTMS","BPTMS","CPTMS"],"range":["#0000ff","#ff0000","#000000"]},"legend":null}
},
"layer":[
{"data":{"name":"L"},"mark":{"type":"line","strokeWidth":4.5}},
{"data":{"name":"LN"},"mark":{"type":"text","align":"left","baseline":"middle","fontSize":46},"encoding":{"text":{"field":"txt","type":"nominal"}}},
{"data":{"name":"LP"},"mark":{"type":"text","align":"center","baseline":"middle","fontSize":45},"encoding":{"text":{"field":"txt","type":"nominal"}}}
]
},
{
"width":1639,"height":1204,
"view":{"stroke":"black","strokeWidth":2},
"encoding":{
"x":{"field":"w","type":"quantitative","title":"Wavenumber (cm⁻¹)","scale":{"domain":[550,4000],"reverse":true,"nice":false,"zero":false},"axis":{"values":[4000,3750,3500,3250,3000,2750,2500,2250,2000,1750,1500,1250,1000,750],"format":"d","labelExpr":"datum.value % 500 === 0 ? datum.label : ''","tickSize":{"condition":{"test":"datum.value % 500 === 0","value":23},"value":12},"tickWidth":4,"domainWidth":4,"labelFontSize":43,"labelPadding":19,"titleFontSize":50,"titlePadding":56}},
"y":{"field":"t","type":"quantitative","title":"T (%)","scale":{"domain":[0,15.05],"nice":false,"zero":false},"axis":{"values":[0,1,2,3,4,5,6,7,8,9,10,11,12,13,14,15],"labels":false,"tickSize":{"condition":{"test":"datum.value % 2 === 0","value":25},"value":13},"tickWidth":4,"domainWidth":4,"titleFontSize":57,"titlePadding":50,"titleY":558}},
"color":{"field":"s","type":"nominal","scale":{"domain":["ZnO_i","ZnO_b","ZnO_c","ZnO"],"range":["#ff00ff","#0000ff","#ff0000","#000000"]},"legend":null}
},
"layer":[
{"data":{"name":"R"},"mark":{"type":"line","strokeWidth":4}},
{"data":{"name":"RN"},"mark":{"type":"text","align":"left","baseline":"middle","fontSize":43},"encoding":{"text":{"field":"txt","type":"nominal"}}},
{"data":{"name":"RP"},"mark":{"type":"text","align":"center","baseline":"middle","fontSize":39},"encoding":{"text":{"field":"txt","type":"nominal"}}}
]
}
]
}
